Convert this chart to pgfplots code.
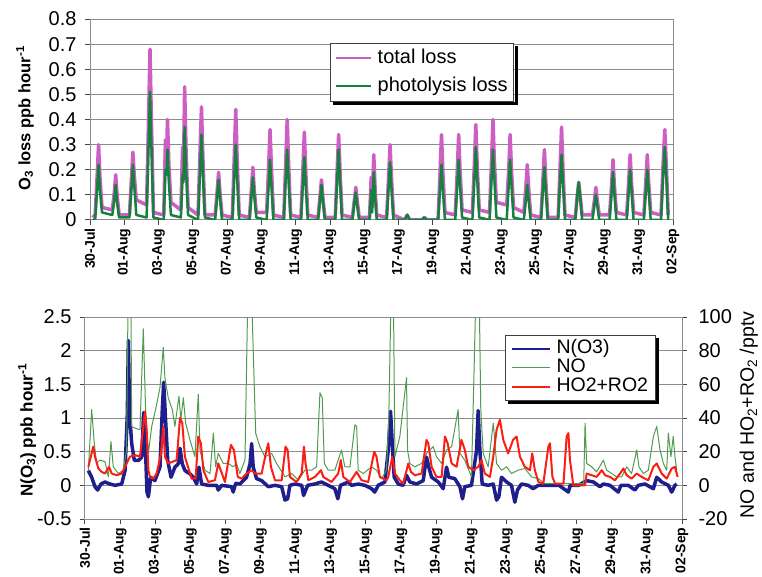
\documentclass[border=0pt]{standalone}
\usepackage{fontspec}
\setmainfont{Liberation Sans}
\usepackage{pgfplots}
\pgfplotsset{compat=1.18}
\usepackage{pgfplotstable}

\definecolor{tl}{RGB}{205,95,195}
\definecolor{ph}{RGB}{20,130,60}
\definecolor{nav}{RGB}{30,30,140}
\definecolor{nog}{RGB}{80,155,80}
\definecolor{hr}{RGB}{250,30,20}
\definecolor{gridc}{RGB}{140,140,140}

\pgfplotstableread{
d tot pho
0.15 0.01 0.00
0.30 0.02 0.00
0.42 0.18 0.13
0.50 0.30 0.22
0.58 0.17 0.12
0.70 0.05 0.03
1.30 0.04 0.02
1.42 0.11 0.08
1.50 0.18 0.14
1.58 0.10 0.07
1.70 0.02 0.01
2.30 0.02 0.01
2.42 0.17 0.13
2.50 0.27 0.22
2.58 0.18 0.14
2.70 0.08 0.02
3.30 0.06 0.01
3.42 0.42 0.31
3.50 0.68 0.51
3.58 0.40 0.30
3.70 0.03 0.01
4.30 0.02 0.00
4.40 0.32 0.20
4.46 0.25 0.18
4.52 0.40 0.28
4.60 0.22 0.15
4.72 0.07 0.02
5.30 0.04 0.01
5.40 0.29 0.18
5.45 0.20 0.15
5.52 0.53 0.37
5.60 0.28 0.20
5.72 0.05 0.02
6.30 0.02 0.00
6.42 0.28 0.20
6.50 0.45 0.34
6.58 0.26 0.19
6.70 0.02 0.01
7.30 0.02 0.00
7.42 0.12 0.10
7.50 0.19 0.16
7.58 0.11 0.09
7.70 0.02 0.00
8.30 0.01 0.00
8.42 0.27 0.18
8.50 0.44 0.30
8.58 0.25 0.17
8.70 0.02 0.00
9.30 0.01 0.00
9.42 0.13 0.10
9.50 0.21 0.17
9.58 0.12 0.10
9.70 0.03 0.01
10.30 0.03 0.00
10.42 0.22 0.14
10.50 0.36 0.24
10.58 0.21 0.14
10.70 0.02 0.00
11.30 0.01 0.00
11.42 0.24 0.17
11.50 0.40 0.28
11.58 0.23 0.16
11.70 0.02 0.00
12.30 0.01 0.00
12.42 0.21 0.15
12.50 0.35 0.25
12.58 0.20 0.14
12.70 0.02 0.00
13.30 0.01 0.00
13.42 0.10 0.08
13.50 0.16 0.14
13.58 0.09 0.08
13.70 0.01 0.00
14.30 0.01 0.00
14.42 0.21 0.17
14.50 0.34 0.28
14.58 0.20 0.16
14.70 0.02 0.00
15.30 0.01 0.00
15.42 0.08 0.07
15.50 0.13 0.11
15.58 0.08 0.06
15.70 0.01 0.00
16.30 0.01 0.00
16.40 0.17 0.12
16.45 0.05 0.03
16.55 0.26 0.19
16.63 0.12 0.09
16.72 0.02 0.00
17.30 0.01 0.00
17.42 0.18 0.14
17.50 0.30 0.23
17.58 0.17 0.13
17.70 0.02 0.00
18.35 0.00 0.00
18.50 0.02 0.02
18.65 0.00 0.00
19.35 0.00 0.00
19.50 0.01 0.01
19.65 0.00 0.00
20.30 0.00 0.00
20.42 0.20 0.13
20.50 0.34 0.22
20.58 0.19 0.12
20.70 0.03 0.00
21.30 0.02 0.00
21.42 0.20 0.14
21.50 0.34 0.24
21.58 0.20 0.14
21.70 0.04 0.01
22.30 0.03 0.00
22.42 0.23 0.17
22.50 0.38 0.29
22.58 0.22 0.17
22.70 0.04 0.01
23.30 0.03 0.00
23.42 0.24 0.17
23.50 0.40 0.28
23.58 0.24 0.17
23.70 0.07 0.01
24.30 0.06 0.00
24.42 0.20 0.14
24.50 0.34 0.24
24.58 0.20 0.14
24.70 0.05 0.01
25.30 0.03 0.00
25.42 0.13 0.08
25.50 0.22 0.14
25.58 0.13 0.08
25.70 0.02 0.00
26.30 0.01 0.00
26.42 0.17 0.13
26.50 0.28 0.21
26.58 0.16 0.12
26.70 0.01 0.00
27.30 0.01 0.00
27.42 0.22 0.16
27.50 0.37 0.26
27.58 0.21 0.15
27.70 0.02 0.00
28.30 0.01 0.00
28.42 0.10 0.10
28.50 0.15 0.15
28.58 0.10 0.10
28.70 0.02 0.00
29.30 0.02 0.00
29.42 0.08 0.06
29.50 0.13 0.10
29.58 0.08 0.06
29.70 0.02 0.00
30.30 0.02 0.00
30.42 0.14 0.11
30.50 0.24 0.19
30.58 0.14 0.11
30.70 0.03 0.00
31.30 0.02 0.00
31.42 0.16 0.12
31.50 0.26 0.20
31.58 0.15 0.12
31.70 0.03 0.00
32.30 0.02 0.00
32.42 0.16 0.12
32.50 0.26 0.20
32.58 0.15 0.12
32.70 0.03 0.00
33.30 0.02 0.00
33.42 0.22 0.17
33.52 0.36 0.29
33.62 0.20 0.16
33.72 0.02 0.00
}\topdata

\pgfplotstableread{
d v
0.19 0.22
0.38 0.12
0.57 -0.02
0.72 -0.07
0.91 0.02
1.14 0.05
1.42 0.02
1.71 0.00
2.09 0.02
2.28 0.22
2.41 1.06
2.47 2.15
2.54 1.06
2.66 0.62
2.81 0.37
3.04 0.37
3.23 0.42
3.34 1.08
3.42 0.72
3.53 -0.10
3.61 -0.17
3.74 0.12
3.98 0.07
4.27 0.27
4.40 1.11
4.48 1.53
4.59 0.97
4.71 0.37
4.90 0.12
5.12 0.27
5.31 0.32
5.41 0.55
5.54 0.32
5.69 0.22
5.98 0.17
6.17 0.12
6.36 0.02
6.49 0.27
6.64 0.02
7.02 0.00
7.50 0.00
7.59 -0.07
7.78 0.00
8.35 -0.02
8.44 -0.10
8.58 0.03
8.82 0.02
9.20 0.12
9.40 0.32
9.49 0.62
9.58 0.27
9.77 0.10
10.06 0.07
10.44 -0.02
10.82 0.00
11.20 -0.02
11.39 -0.22
11.54 -0.20
11.67 0.00
11.96 0.02
12.34 0.00
12.45 -0.15
12.68 0.00
13.09 0.02
13.47 0.05
13.85 0.00
14.23 -0.05
14.40 -0.20
14.55 0.00
15.00 0.05
15.18 0.00
15.56 0.02
15.94 0.00
16.32 -0.05
16.50 -0.10
16.70 0.00
17.08 0.05
17.27 0.52
17.40 1.10
17.50 0.62
17.61 0.12
17.84 0.02
18.12 0.00
18.31 0.15
18.50 0.05
18.88 0.02
19.26 0.07
19.45 0.42
19.58 0.27
19.74 0.12
20.12 0.05
20.40 -0.05
20.59 0.27
20.72 0.12
21.06 0.10
21.35 -0.02
21.50 -0.20
21.63 -0.02
22.01 0.00
22.30 0.52
22.39 1.11
22.49 0.52
22.62 0.02
22.96 0.00
23.25 0.02
23.44 -0.22
23.57 -0.17
23.72 0.12
24.01 0.05
24.29 0.00
24.48 -0.25
24.63 -0.07
24.86 0.02
25.24 0.00
25.52 -0.05
25.81 0.00
26.20 0.00
27.00 0.00
27.53 -0.10
27.63 0.00
28.10 0.00
28.57 0.07
28.95 0.05
29.33 -0.02
29.52 0.02
29.90 0.00
30.37 -0.10
30.52 0.00
30.94 0.00
31.32 -0.07
31.51 0.00
31.89 0.02
32.37 -0.05
32.56 0.12
32.84 0.05
33.22 0.00
33.41 -0.10
33.60 0.00
33.70 0.02
}\nothree

\pgfplotstableread{
d v
0.19 9
0.38 45
0.53 25
0.66 13
0.85 15
1.14 14
1.33 5
1.48 26
1.61 11
1.90 7
2.18 9
2.37 21
2.47 130
2.60 130
2.66 35
2.85 34
3.13 33
3.32 93
3.45 45
3.61 19
3.80 35
4.08 48
4.27 58
4.46 82
4.55 64
4.74 52
4.97 45
5.12 35
5.35 53
5.46 39
5.60 52
5.73 37
5.98 27
6.26 17
6.45 54
6.55 21
6.83 9
7.12 7
7.31 31
7.44 11
7.59 19
7.87 13
8.16 13
8.44 11
8.63 13
8.82 7
9.11 15
9.30 130
9.45 130
9.58 80
9.72 31
9.96 23
10.25 17
10.63 19
10.91 13
11.39 5
11.77 7
12.15 3
12.52 9
12.91 9
13.19 11
13.38 55
13.51 52
13.63 13
13.85 9
14.23 9
14.61 21
14.80 11
15.09 11
15.37 36
15.47 35
15.56 9
15.85 7
16.32 11
16.60 9
16.89 4
17.17 9
17.30 40
17.46 130
17.55 130
17.65 17
17.93 29
18.31 64
18.37 21
18.50 13
18.79 11
19.17 13
19.45 19
19.83 23
20.02 17
20.31 13
20.59 21
20.88 23
21.25 45
21.35 19
21.63 15
22.01 5
22.30 130
22.43 130
22.54 45
22.68 19
22.96 11
23.25 37
23.44 13
23.72 9
24.01 11
24.29 7
24.67 9
25.05 10
25.43 5
25.81 4
26.20 1
27.00 1
28.00 1
28.40 1
28.48 37
28.57 13
28.86 11
29.14 8
29.52 15
29.71 9
30.00 7
30.28 5
30.56 5
30.85 11
31.13 7
31.42 21
31.55 11
31.80 7
32.08 9
32.37 29
32.56 35
32.75 21
32.94 13
33.13 9
33.22 31
33.37 17
33.50 29
33.60 17
33.70 9
}\nodata

\pgfplotstableread{
d v
0.19 11
0.47 23
0.57 17
0.76 10
0.95 8
1.14 7
1.37 11
1.52 7
1.80 6
2.09 7
2.28 11
2.56 17
2.85 18
3.13 17
3.42 44
3.51 33
3.61 9
3.70 5
3.89 4
4.08 7
4.33 19
4.46 35
4.55 17
4.74 13
5.22 15
5.41 40
5.54 37
5.69 17
6.07 4
6.30 4
6.45 29
6.60 25
6.74 9
7.02 2
7.40 3
7.59 13
7.97 2
8.31 24
8.48 21
8.70 5
8.92 4
9.20 7
9.49 9
9.68 7
10.06 7
10.34 21
10.44 25
10.59 11
10.82 3
11.20 3
11.42 23
11.54 21
11.67 5
12.05 2
12.34 7
12.47 23
12.56 13
12.72 3
13.09 5
13.44 9
13.57 5
14.04 2
14.42 7
14.57 15
14.71 5
15.09 2
15.47 8
15.75 3
16.13 2
16.47 20
16.60 17
16.79 5
17.17 3
17.27 5
17.50 17
17.65 7
17.93 3
18.12 1
18.41 13
18.56 8
18.79 6
19.17 7
19.45 27
19.55 25
19.74 11
20.02 5
20.31 5
20.50 29
20.65 25
20.88 13
21.16 11
21.44 27
21.63 21
21.82 11
22.11 9
22.39 11
22.58 15
22.77 7
23.06 5
23.25 17
23.44 33
23.63 39
23.82 27
24.10 19
24.38 27
24.58 29
24.77 17
25.05 11
25.34 9
25.47 19
25.62 9
25.82 2
26.10 1
26.39 23
26.48 25
26.62 5
26.77 1
27.25 1
27.43 29
27.53 31
27.62 15
27.81 0
28.48 0
28.57 7
28.86 6
29.14 5
29.43 9
29.62 6
29.90 5
30.18 3
30.47 7
30.66 10
30.85 6
31.13 4
31.42 7
31.70 5
32.08 3
32.37 11
32.56 13
32.84 7
33.13 4
33.41 10
33.60 11
33.75 5
}\hodata

\pgfplotsset{
  myax/.style={
    scale only axis,
    xmin=0, xmax=34,
    xtick={0,2,...,34},
    xticklabels={30-Jul,01-Aug,03-Aug,05-Aug,07-Aug,09-Aug,11-Aug,13-Aug,15-Aug,17-Aug,19-Aug,21-Aug,23-Aug,25-Aug,27-Aug,29-Aug,31-Aug,02-Sep},
    tick align=outside,
    major tick length=5pt,
    xtick pos=bottom,
    axis line style={gridc, line width=1pt},
    tick style={gridc!50!black, line width=1pt},
    xticklabel style={rotate=90, anchor=east, font=\fontsize{14}{14}\selectfont\bfseries},
    yticklabel style={font=\fontsize{20}{20}\selectfont},
    legend cell align=left,
  }
}

\begin{document}
\begin{tikzpicture}
\path[use as bounding box] (0,0) rectangle (762pt,576pt);

% ---------- top panel ----------
\begin{axis}[myax,
  at={(90pt,356pt)}, anchor=south west,
  width=583pt, height=201pt,
  ymin=0, ymax=0.8,
  ytick={0,0.1,0.2,0.3,0.4,0.5,0.6,0.7,0.8},
  yticklabels={0,0.1,0.2,0.3,0.4,0.5,0.6,0.7,0.8},
  yticklabel style={xshift=-5pt},
  ytick pos=left,
  ymajorgrids, grid style={gridc, line width=1pt},
  ylabel={O\textsubscript{3} loss ppb hour\textsuperscript{-1}},
  ylabel style={at={(axis description cs:-0.1115,0.507)}, anchor=center, font=\fontsize{16.5}{16.5}\selectfont\bfseries},
  legend image code/.code={\draw[#1] (0pt,0pt) -- (35pt,0pt);},
  legend style={name=legtop, at={(rel axis cs:0.412,0.881)}, anchor=north west,
    draw=black!75, line width=1pt, fill=white,
    font=\fontsize{20}{20}\selectfont,
    nodes={text height=14pt, text depth=4pt, inner ysep=5pt, inner xsep=2pt},
    row sep=0pt, inner xsep=4pt, inner ysep=1pt,
    /tikz/every odd column/.append style={column sep=4pt}},
]
\addlegendimage{tl, line width=2pt}
\addlegendimage{ph, line width=2pt}
\addplot[forget plot, tl, line width=3.5pt, line join=round] table[x=d, y=tot]{\topdata};
\addplot[forget plot, ph, line width=2.5pt, line join=round] table[x=d, y=pho]{\topdata};
\legend{total loss, photolysis loss}
\end{axis}
% legend shadow (right and bottom strips outside the box)
\fill[black] ([xshift=0.5pt,yshift=-3pt]legtop.north east) rectangle ([xshift=3.5pt,yshift=-3.5pt]legtop.south east);
\fill[black] ([xshift=3pt,yshift=-0.5pt]legtop.south west) rectangle ([xshift=3.5pt,yshift=-3.5pt]legtop.south east);

% ---------- bottom panel, left axis ----------
\begin{axis}[myax,
  at={(85pt,57pt)}, anchor=south west,
  width=597pt, height=202pt,
  ymin=-0.5, ymax=2.5,
  ytick={-0.5,0,0.5,1,1.5,2,2.5},
  yticklabels={-0.5,0,0.5,1,1.5,2,2.5},
  yticklabel style={xshift=-5pt},
  ytick pos=left,
  ymajorgrids, grid style={gridc, line width=1pt},
  ylabel={N(O\textsubscript{3}) ppb hour\textsuperscript{-1}},
  ylabel style={at={(axis description cs:-0.097,0.44)}, anchor=center, font=\fontsize{17}{17}\selectfont\bfseries},
]
\addplot[nav, line width=3.5pt, line join=round] table[x=d, y=v]{\nothree};
\end{axis}

% ---------- bottom panel, right axis ----------
\begin{axis}[myax,
  at={(85pt,57pt)}, anchor=south west,
  width=597pt, height=202pt,
  axis x line=none,
  axis y line*=right,
  ymin=-20, ymax=100,
  ytick={-20,0,20,40,60,80,100},
  yticklabels={-20,0,20,40,60,80,100},
  yticklabel style={xshift=8pt},
  ylabel={NO and HO\textsubscript{2}+RO\textsubscript{2} /pptv},
  ylabel style={at={(axis description cs:1.112,0.515)}, anchor=center, font=\fontsize{19.5}{19.5}\selectfont},
  legend image code/.code={\draw[#1] (0pt,0pt) -- (38pt,0pt);},
  legend style={name=legbot, at={(rel axis cs:0.7035,0.911)}, anchor=north west,
    draw=black!75, line width=1pt, fill=white,
    font=\fontsize{19.5}{19.5}\selectfont,
    nodes={text height=14pt, text depth=4pt, inner ysep=0.5pt, inner xsep=2pt},
    row sep=0pt, inner xsep=5pt, inner ysep=4pt,
    /tikz/every odd column/.append style={column sep=4pt}},
]
\addlegendimage{nav, line width=2pt}
\addlegendimage{nog, line width=1pt}
\addlegendimage{hr, line width=2pt}
\addplot[forget plot, nog, line width=1pt, line join=round] table[x=d, y=v]{\nodata};
\addplot[forget plot, hr, line width=2pt, line join=round] table[x=d, y=v]{\hodata};
\legend{N(O3), NO, HO2+RO2}
\end{axis}
\fill[black] ([xshift=0.5pt,yshift=-3pt]legbot.north east) rectangle ([xshift=3.5pt,yshift=-3.5pt]legbot.south east);
\fill[black] ([xshift=3pt,yshift=-0.5pt]legbot.south west) rectangle ([xshift=3.5pt,yshift=-3.5pt]legbot.south east);
\end{tikzpicture}
\end{document}
